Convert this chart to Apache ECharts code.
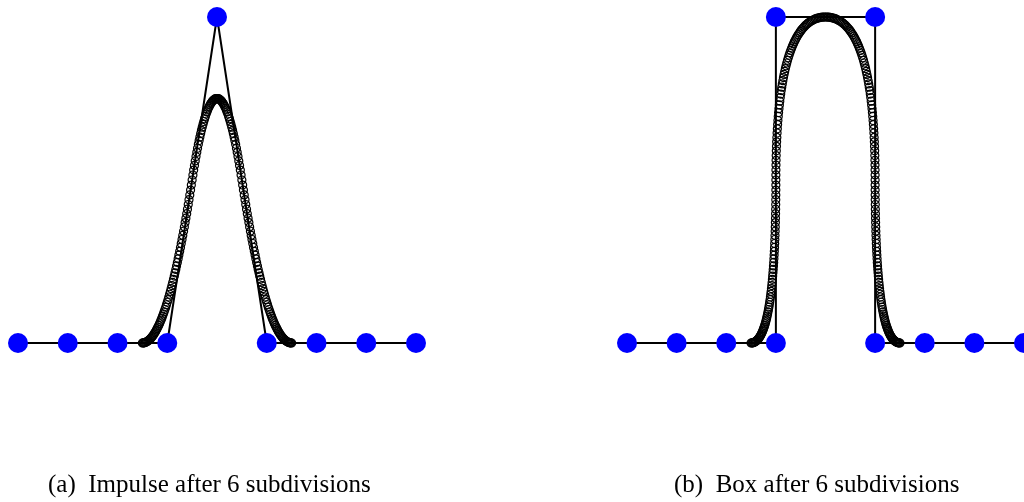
<!DOCTYPE html>
<html>
<head>
<meta charset="utf-8">
<script src="https://cdn.jsdelivr.net/npm/echarts@6/dist/echarts.min.js"></script>
<style>
html,body{margin:0;padding:0;background:#fff;}
#chart{width:1024px;height:502px;}
</style>
</head>
<body>
<div id="chart"></div>
<script>
// Control polygons
const impulseCtrlX = [-4, -3, -2, -1, 0, 1, 2, 3, 4];
const impulseCtrlY = [0, 0, 0, 0, 1, 0, 0, 0, 0];
const boxCtrlX = [-4, -3, -2, -1, -1, 1, 1, 2, 3, 4];
const boxCtrlY = [0, 0, 0, 0, 1, 1, 0, 0, 0, 0];

// Impulse after 6 subdivisions
const impulseCurveX = [
-1.5,-1.484,-1.469,-1.453,-1.438,-1.422,-1.406,-1.391,-1.375,-1.359,-1.344,-1.328,-1.313,-1.297,-1.281,-1.266,-1.25,-1.234,-1.219,-1.203,-1.188,-1.172,-1.156,-1.141,-1.125,-1.109,-1.094,-1.078,-1.063,-1.047,-1.031,-1.016,
-1,-0.984,-0.969,-0.953,-0.938,-0.922,-0.906,-0.891,-0.875,-0.859,-0.844,-0.828,-0.813,-0.797,-0.781,-0.766,-0.75,-0.734,-0.719,-0.703,-0.688,-0.672,-0.656,-0.641,-0.625,-0.609,-0.594,-0.578,-0.563,-0.547,-0.531,-0.516,
-0.5,-0.484,-0.469,-0.453,-0.438,-0.422,-0.406,-0.391,-0.375,-0.359,-0.344,-0.328,-0.313,-0.297,-0.281,-0.266,-0.25,-0.234,-0.219,-0.203,-0.188,-0.172,-0.156,-0.141,-0.125,-0.109,-0.094,-0.078,-0.063,-0.047,-0.031,-0.016,
0,0.016,0.031,0.047,0.063,0.078,0.094,0.109,0.125,0.141,0.156,0.172,0.188,0.203,0.219,0.234,0.25,0.266,0.281,0.297,0.313,0.328,0.344,0.359,0.375,0.391,0.406,0.422,0.438,0.453,0.469,0.484,
0.5,0.516,0.531,0.547,0.563,0.578,0.594,0.609,0.625,0.641,0.656,0.672,0.688,0.703,0.719,0.734,0.75,0.766,0.781,0.797,0.813,0.828,0.844,0.859,0.875,0.891,0.906,0.922,0.938,0.953,0.969,0.984,
1,1.016,1.031,1.047,1.063,1.078,1.094,1.109,1.125,1.141,1.156,1.172,1.188,1.203,1.219,1.234,1.25,1.266,1.281,1.297,1.313,1.328,1.344,1.359,1.375,1.391,1.406,1.422,1.438,1.453,1.469,1.484,1.5
];
const impulseCurveY = [
0,0.0001,0.0005,0.0011,0.002,0.0031,0.0044,0.006,0.0078,0.0099,0.0122,0.0148,0.0176,0.0206,0.0239,0.0275,0.0313,0.0353,0.0396,0.0441,0.0488,0.0538,0.0591,0.0646,0.0703,0.0763,0.0825,0.089,0.0957,0.1027,0.1099,0.1173,
0.125,0.1329,0.1411,0.1495,0.1582,0.1671,0.1763,0.1857,0.1953,0.2052,0.2153,0.2257,0.2363,0.2472,0.2583,0.2696,0.2813,0.2931,0.3052,0.3175,0.3301,0.3429,0.356,0.3693,0.3828,0.3966,0.4106,0.4249,0.4395,0.4542,0.4692,0.4845,
0.5,0.5154,0.5303,0.5447,0.5586,0.572,0.585,0.5974,0.6094,0.6208,0.6318,0.6423,0.6523,0.6619,0.6709,0.6794,0.6875,0.6951,0.7021,0.7087,0.7148,0.7205,0.7256,0.7302,0.7344,0.738,0.7412,0.7439,0.7461,0.7478,0.749,0.7498,
0.75,0.7498,0.749,0.7478,0.7461,0.7439,0.7412,0.738,0.7344,0.7302,0.7256,0.7205,0.7148,0.7087,0.7021,0.6951,0.6875,0.6794,0.6709,0.6619,0.6523,0.6423,0.6318,0.6208,0.6094,0.5974,0.585,0.572,0.5586,0.5447,0.5303,0.5154,
0.5,0.4845,0.4692,0.4542,0.4395,0.4249,0.4106,0.3966,0.3828,0.3693,0.356,0.3429,0.3301,0.3175,0.3052,0.2931,0.2813,0.2696,0.2583,0.2472,0.2363,0.2257,0.2153,0.2052,0.1953,0.1857,0.1763,0.1671,0.1582,0.1495,0.1411,0.1329,
0.125,0.1173,0.1099,0.1027,0.0957,0.089,0.0825,0.0763,0.0703,0.0646,0.0591,0.0538,0.0488,0.0441,0.0396,0.0353,0.0313,0.0275,0.0239,0.0206,0.0176,0.0148,0.0122,0.0099,0.0078,0.006,0.0044,0.0031,0.002,0.0011,0.0005,0.0001,0
];

// Box after 6 subdivisions
const boxCurveX = [
-1.5,-1.4845,-1.4692,-1.4542,-1.4395,-1.4249,-1.4106,-1.3966,-1.3828,-1.3693,-1.356,-1.3429,-1.3301,-1.3175,-1.3052,-1.2931,-1.2813,-1.2696,-1.2583,-1.2472,-1.2363,-1.2257,-1.2153,-1.2052,-1.1953,-1.1857,-1.1763,-1.1671,-1.1582,-1.1495,-1.1411,-1.1329,
-1.125,-1.1173,-1.1099,-1.1027,-1.0957,-1.089,-1.0825,-1.0763,-1.0703,-1.0646,-1.0591,-1.0538,-1.0488,-1.0441,-1.0396,-1.0353,-1.0313,-1.0275,-1.0239,-1.0206,-1.0176,-1.0148,-1.0122,-1.0099,-1.0078,-1.006,-1.0044,-1.0031,-1.002,-1.0011,-1.0005,-1.0001,
-1,-0.9998,-0.999,-0.9978,-0.9961,-0.9939,-0.9912,-0.988,-0.9844,-0.9802,-0.9756,-0.9705,-0.9648,-0.9587,-0.9521,-0.9451,-0.9375,-0.9294,-0.9209,-0.9119,-0.9023,-0.8923,-0.8818,-0.8708,-0.8594,-0.8474,-0.835,-0.822,-0.8086,-0.7947,-0.7803,-0.7654,
-0.75,-0.7341,-0.7178,-0.701,-0.6836,-0.6658,-0.6475,-0.6287,-0.6094,-0.5896,-0.5693,-0.5486,-0.5273,-0.5056,-0.4834,-0.4607,-0.4375,-0.4138,-0.3896,-0.365,-0.3398,-0.3142,-0.288,-0.2614,-0.2344,-0.2068,-0.1788,-0.1502,-0.1211,-0.0916,-0.0616,-0.031,
0,0.031,0.0616,0.0916,0.1211,0.1502,0.1788,0.2068,0.2344,0.2614,0.288,0.3142,0.3398,0.365,0.3896,0.4138,0.4375,0.4607,0.4834,0.5056,0.5273,0.5486,0.5693,0.5896,0.6094,0.6287,0.6475,0.6658,0.6836,0.701,0.7178,0.7341,
0.75,0.7654,0.7803,0.7947,0.8086,0.822,0.835,0.8474,0.8594,0.8708,0.8818,0.8923,0.9023,0.9119,0.9209,0.9294,0.9375,0.9451,0.9521,0.9587,0.9648,0.9705,0.9756,0.9802,0.9844,0.988,0.9912,0.9939,0.9961,0.9978,0.999,0.9998,
1,1.0001,1.0005,1.0011,1.002,1.0031,1.0044,1.006,1.0078,1.0099,1.0122,1.0148,1.0176,1.0206,1.0239,1.0275,1.0313,1.0353,1.0396,1.0441,1.0488,1.0538,1.0591,1.0646,1.0703,1.0763,1.0825,1.089,1.0957,1.1027,1.1099,1.1173,
1.125,1.1329,1.1411,1.1495,1.1582,1.1671,1.1763,1.1857,1.1953,1.2052,1.2153,1.2257,1.2363,1.2472,1.2583,1.2696,1.2813,1.2931,1.3052,1.3175,1.3301,1.3429,1.356,1.3693,1.3828,1.3966,1.4106,1.4249,1.4395,1.4542,1.4692,1.4845,1.5
];
const boxCurveY = [
0,0.0001,0.0005,0.0011,0.002,0.0031,0.0044,0.006,0.0078,0.0099,0.0122,0.0148,0.0176,0.0206,0.0239,0.0275,0.0313,0.0353,0.0396,0.0441,0.0488,0.0538,0.0591,0.0646,0.0703,0.0763,0.0825,0.089,0.0957,0.1027,0.1099,0.1173,
0.125,0.1329,0.1411,0.1495,0.1582,0.1671,0.1763,0.1857,0.1953,0.2052,0.2153,0.2257,0.2363,0.2472,0.2583,0.2696,0.2813,0.2931,0.3052,0.3175,0.3301,0.3429,0.356,0.3693,0.3828,0.3966,0.4106,0.4249,0.4395,0.4542,0.4692,0.4845,
0.5,0.5155,0.5308,0.5458,0.5605,0.575,0.5894,0.6034,0.6172,0.6307,0.6441,0.6571,0.6699,0.6825,0.6949,0.7069,0.7188,0.7303,0.7417,0.7528,0.7637,0.7743,0.7847,0.7948,0.8047,0.8143,0.8238,0.8329,0.8418,0.8504,0.8589,0.8671,
0.875,0.8827,0.8902,0.8974,0.9043,0.911,0.9175,0.9237,0.9297,0.9354,0.941,0.9462,0.9512,0.9559,0.9605,0.9648,0.9687,0.9725,0.9761,0.9794,0.9824,0.9852,0.9878,0.9901,0.9922,0.994,0.9957,0.997,0.998,0.9989,0.9996,0.9999,
1,0.9999,0.9996,0.9989,0.998,0.997,0.9957,0.994,0.9922,0.9901,0.9878,0.9852,0.9824,0.9794,0.9761,0.9725,0.9687,0.9648,0.9605,0.9559,0.9512,0.9462,0.941,0.9354,0.9297,0.9237,0.9175,0.911,0.9043,0.8974,0.8902,0.8827,
0.875,0.8671,0.8589,0.8504,0.8418,0.8329,0.8238,0.8143,0.8047,0.7948,0.7847,0.7743,0.7637,0.7528,0.7417,0.7303,0.7188,0.7069,0.6949,0.6825,0.6699,0.6571,0.6441,0.6307,0.6172,0.6034,0.5894,0.575,0.5605,0.5458,0.5308,0.5155,
0.5,0.4845,0.4692,0.4542,0.4395,0.4249,0.4106,0.3966,0.3828,0.3693,0.356,0.3429,0.3301,0.3175,0.3052,0.2931,0.2813,0.2696,0.2583,0.2472,0.2363,0.2257,0.2153,0.2052,0.1953,0.1857,0.1763,0.1671,0.1582,0.1495,0.1411,0.1329,
0.125,0.1173,0.1099,0.1027,0.0957,0.089,0.0825,0.0763,0.0703,0.0646,0.0591,0.0538,0.0488,0.0441,0.0396,0.0353,0.0313,0.0275,0.0239,0.0206,0.0176,0.0148,0.0122,0.0099,0.0078,0.006,0.0044,0.0031,0.002,0.0011,0.0005,0.0001,0
];

const captions = ['(a)  Impulse after 6 subdivisions', '(b)  Box after 6 subdivisions'];

function zip(xs, ys) { return xs.map((x, i) => [x, ys[i]]); }

const chart = echarts.init(document.getElementById('chart'), null, { renderer: 'canvas' });

const axisX = (gi) => ({ type: 'value', gridIndex: gi, min: -4, max: 4, show: false });
const axisY = (gi) => ({ type: 'value', gridIndex: gi, min: 0, max: 1, show: false });

function panelSeries(gi, cx, cy, curX, curY) {
  return [
    {
      type: 'line', xAxisIndex: gi, yAxisIndex: gi, data: zip(cx, cy),
      showSymbol: false, symbol: 'none', silent: true,
      lineStyle: { color: '#000', width: 2, opacity: 1 }, z: 2
    },
    {
      type: 'scatter', xAxisIndex: gi, yAxisIndex: gi, data: zip(curX, curY),
      symbol: 'circle', symbolSize: 8, silent: true,
      itemStyle: { color: 'rgba(0,0,0,0)', borderColor: '#000', borderWidth: 1.2, opacity: 1 }, z: 3
    },
    {
      type: 'scatter', xAxisIndex: gi, yAxisIndex: gi, data: zip(cx, cy),
      symbol: 'circle', symbolSize: 20, silent: true,
      itemStyle: { color: '#0000ff', opacity: 1 }, z: 4
    }
  ];
}

chart.setOption({
  animation: false,
  backgroundColor: '#ffffff',
  grid: [
    { left: 18, top: 17, width: 398, height: 326 },
    { left: 627, top: 17, width: 397, height: 326 }
  ],
  xAxis: [axisX(0), axisX(1)],
  yAxis: [axisY(0), axisY(1)],
  series: [].concat(
    panelSeries(0, impulseCtrlX, impulseCtrlY, impulseCurveX, impulseCurveY),
    panelSeries(1, boxCtrlX, boxCtrlY, boxCurveX, boxCurveY)
  ),
  graphic: [
    { type: 'text', left: 48, top: 473, style: { text: captions[0], font: '25px "Liberation Serif", "DejaVu Serif", serif', fill: '#000' } },
    { type: 'text', left: 674, top: 473, style: { text: captions[1], font: '25px "Liberation Serif", "DejaVu Serif", serif', fill: '#000' } }
  ]
});
</script>
</body>
</html>
